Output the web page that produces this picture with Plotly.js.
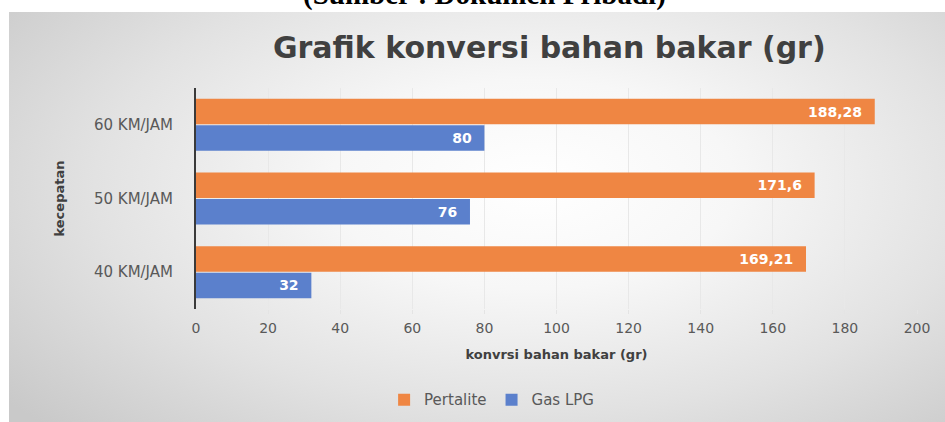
<!DOCTYPE html>
<html>
<head>
<meta charset="utf-8">
<script src="https://cdn.plot.ly/plotly-3.0.1.min.js"></script>
<style>
  html, body { margin: 0; padding: 0; background: #ffffff; }
  #wrap { position: relative; width: 945px; height: 422px; overflow: hidden; }
  #bg { position: absolute; left: 9px; top: 12px; width: 936px; height: 410px;
        background: radial-gradient(ellipse 72% 85% at 56% 42%, #ffffff 0%, #f7f7f7 30%, #e2e2e2 65%, #c9c9c9 100%); }
  #chart { position: absolute; left: 0; top: 0; width: 945px; height: 422px; }
</style>
</head>
<body>
<div id="wrap">
  <div id="bg"></div>
  <div id="chart"></div>
</div>
<script>
const categories = ["40 KM/JAM", "50 KM/JAM", "60 KM/JAM"];
const pertalite = [169.21, 171.6, 188.28];
const gasLPG = [32, 76, 80];
const xTicks = [0, 20, 40, 60, 80, 100, 120, 140, 160, 180, 200];

const fmt = v => String(v).replace('.', ',') + '\u00a0\u00a0';

const FONT = "DejaVu Sans, sans-serif";
const labelFont = { family: FONT, size: 14, color: "#ffffff", weight: "bold" };

const traces = [
  {
    type: "bar", orientation: "h", name: "Gas LPG",
    y: categories, x: gasLPG,
    text: gasLPG.map(fmt), textposition: "inside", insidetextanchor: "end",
    textfont: labelFont, constraintext: "none",
    marker: { color: "#5b80cc" }, hoverinfo: "x+y", legendrank: 2
  },
  {
    type: "bar", orientation: "h", name: "Pertalite",
    y: categories, x: pertalite,
    text: pertalite.map(fmt), textposition: "inside", insidetextanchor: "end",
    textfont: labelFont, constraintext: "none",
    marker: { color: "#ef8643" }, hoverinfo: "x+y", legendrank: 1
  }
];

const layout = {
  width: 945, height: 422,
  paper_bgcolor: "rgba(0,0,0,0)", plot_bgcolor: "rgba(0,0,0,0)",
  margin: { l: 196, r: 28, t: 88, b: 113, autoexpand: false },
  barmode: "group", bargap: 0.28, bargroupgap: 0.04,
  font: { family: FONT, color: "#595959" },
  title: {
    text: "Grafik konversi bahan bakar (gr)",
    font: { family: FONT, size: 30, color: "#404040", weight: "bold" },
    x: 0.49, xref: "paper", xanchor: "center",
    y: 0.888, yref: "container", yanchor: "middle"
  },
  xaxis: {
    range: [0, 200], tickvals: xTicks, ticktext: xTicks.map(String),
    showgrid: true, gridcolor: "#e8e8e8", gridwidth: 1, zeroline: false,
    ticks: "outside", ticklen: 4, tickcolor: "#e4e4e4",
    ticklabelstandoff: 2, automargin: false,
    tickfont: { size: 14, color: "#595959" },
    title: { text: "konvrsi bahan bakar (gr)", font: { size: 13, color: "#404040", weight: "bold" }, standoff: 15 },
    fixedrange: true
  },
  yaxis: {
    type: "category", showgrid: false, zeroline: false,
    showline: true, linecolor: "#3a3a3a", linewidth: 2,
    ticks: "", ticklabelstandoff: 18, automargin: false,
    tickfont: { size: 15, color: "#595959" },
    title: { text: "kecepatan", font: { size: 13, color: "#404040", weight: "bold" }, standoff: 26 },
    fixedrange: true
  },
  showlegend: true,
  legend: {
    orientation: "h", x: 0.41, xanchor: "center",
    yref: "container", y: 0.0915, yanchor: "top",
    itemwidth: 30,
    font: { size: 15, color: "#595959" }, bgcolor: "rgba(0,0,0,0)"
  },
  annotations: [
    {
      text: "(Sumber : Dokumen Pribadi)", xref: "paper", yref: "paper",
      x: 0.3995, y: 1.424, xanchor: "center", yanchor: "middle", showarrow: false,
      font: { family: "Liberation Serif, serif", size: 29, color: "#000000", weight: "bold" }
    }
  ]
};

Plotly.newPlot("chart", traces, layout, { displayModeBar: false, staticPlot: true });
</script>
</body>
</html>
